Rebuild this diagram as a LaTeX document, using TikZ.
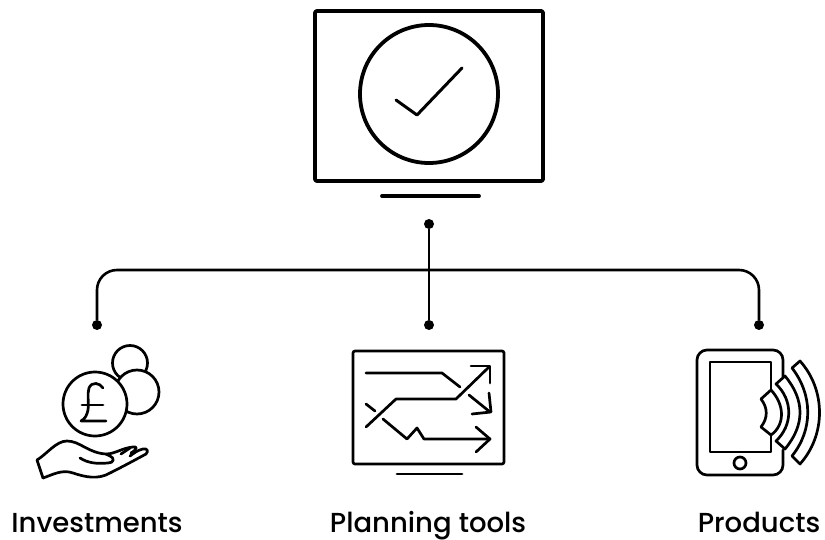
\documentclass[tikz,border=0pt]{standalone}
\usepackage{fontspec}
\setmainfont{Poppins Medium}
\tikzset{
  thickline/.style={line width=3.8pt,line cap=round,line join=round},
  iconline/.style={line width=2.7pt,line cap=round,line join=round},
  link/.style={line width=2.6pt},
  dot/.style={circle,fill=black,inner sep=0pt,minimum size=10pt},
  caption/.style={font=\fontsize{27.5}{30}\selectfont,anchor=base,inner sep=0pt}
}
\begin{document}
\begin{tikzpicture}[x=1pt,y=-1pt]
  \useasboundingbox (0,0) rectangle (825,540);

  % main monitor
  \draw[thickline,rounded corners=2] (315,11) rectangle (543,181);
  \draw[thickline] (429,94) circle (69);
  \draw[thickline,line width=3pt] (396,100) -- (417,115) -- (462,68);
  \draw[thickline] (382,196) -- (479,196);

  % connectors
  \node[dot] (hub) at (429,224) {};
  \node[dot] (investdot) at (97,325) {};
  \node[dot] (plandot) at (429,325) {};
  \node[dot] (productdot) at (759,325) {};
  \coordinate (bus) at (429,270);
  \draw[link] (hub) -- (plandot);
  \draw[link,rounded corners=20] (investdot) |- (bus) -| (productdot);

  % coins and hand
  \draw[iconline,fill=white] (130,363) circle (17.5);
  \draw[iconline,fill=white] (137,392) circle (22);
  \draw[iconline,fill=white] (95,404) circle (32);
  \draw[iconline] (103,388) .. controls (100,383) and (92,381) .. (89,388)
    .. controls (87,394) and (89,402) .. (88,410)
    .. controls (87,415) and (85,419) .. (81,421) -- (106,421);
  \draw[iconline] (82,405) -- (103,405);
  \draw[iconline] (43,478) -- (37,460)
    .. controls (47,454) and (56,441) .. (67,441)
    .. controls (80,441) and (88,453) .. (106,454)
    .. controls (115,454) and (122,448) .. (133,447)
    .. controls (137,446) and (138,449) .. (131,453);
  \draw[iconline] (43,478) .. controls (52,475) and (62,469) .. (73,473)
    .. controls (85,477) and (98,480) .. (110,473)
    .. controls (122,467) and (135,460) .. (146,454)
    .. controls (149,451) and (147,448) .. (143,449)
    .. controls (138,450) and (134,453) .. (130,456);
  \draw[iconline] (80,458) .. controls (88,463) and (96,464) .. (108,463)
    .. controls (114,463) and (115,458) .. (110,456) -- (106,454);
  \draw[iconline] (121,454) -- (130,448);

  % planning monitor
  \draw[iconline,rounded corners=2] (353,351) rectangle (504,464);
  \draw[iconline] (397,474) -- (462,474);
  \draw[iconline] (366,373) -- (442,373) -- (460,387);
  \draw[iconline] (366,427) -- (396,399) -- (456,399) -- (489,367);
  \draw[iconline] (471,366) -- (490,366) -- (490,383);
  \draw[iconline] (469,395) -- (490,412);
  \draw[iconline] (472,414) -- (491,412) -- (489,393);
  \draw[iconline] (366,404) -- (375,411);
  \draw[iconline] (383,419) -- (407,439) -- (417,428) -- (424,439) -- (490,439);
  \draw[iconline] (476,427) -- (490,439) -- (476,452);

  % tablet
  \draw[iconline,rounded corners=10] (783,377) -- (783,350) -- (697,350) -- (697,475) -- (783,475) -- (783,450);
  \draw[iconline] (771,390) -- (771,362) -- (710,362) -- (710,452) -- (771,452) -- (771,435);
  \draw[iconline] (740,463) circle (6);
  \draw[iconline] (761,399) -- (771,390) .. controls (785,405) and (785,425) .. (771,435)
    -- (761,427) .. controls (768,418) and (768,408) .. (761,399) -- cycle;
  \draw[iconline] (776,384) -- (785,376) .. controls (805,400) and (805,425) .. (785,449)
    -- (776,441) .. controls (793,425) and (793,400) .. (776,384) -- cycle;
  \draw[iconline] (792,368) -- (800,361) .. controls (826,390) and (826,435) .. (800,464)
    -- (792,456) .. controls (813,430) and (813,395) .. (792,368) -- cycle;

  % captions
  \node[caption] (investtext) at (97,532) {Investments};
  \node[caption] (plantext) at (428,532) {Planning tools};
  \node[caption] (producttext) at (759,532) {Products};
\end{tikzpicture}
\end{document}
